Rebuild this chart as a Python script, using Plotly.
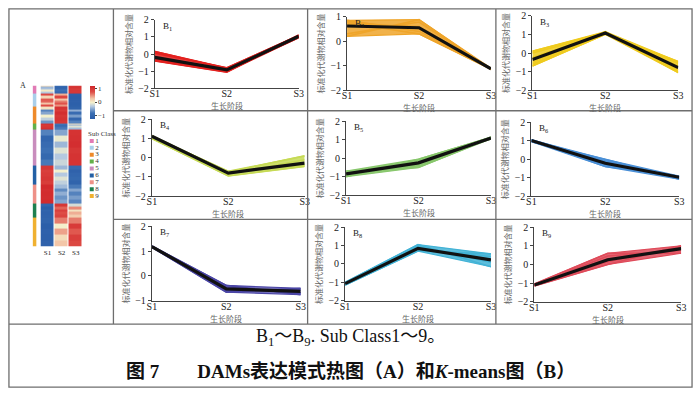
import plotly.graph_objects as go
import numpy as np

# ---------------- data ----------------
stages = ["S1", "S2", "S3"]
panel_names = ["B<sub>1</sub>", "B<sub>2</sub>", "B<sub>3</sub>", "B<sub>4</sub>", "B<sub>5</sub>",
               "B<sub>6</sub>", "B<sub>7</sub>", "B<sub>8</sub>", "B<sub>9</sub>"]
class_names = ["1", "2", "3", "4", "5", "6", "7", "8", "9"]
# relative number of metabolites per sub class (heights of annotation bar)
class_sizes = [13, 19, 26, 10, 55, 29, 30, 21, 45]

# member profiles (standardized relative content) per sub class
members_1 = [[0.15, -0.85, 1.00], [-0.40, -1.05, 1.10], [-0.30, -0.95, 0.95],
             [0.05, -0.80, 1.05], [-0.25, -1.00, 1.00], [-0.35, -0.90, 1.08]]
members_2 = [[0.85, 0.40, -1.10], [0.20, 0.88, -1.15], [0.75, 0.30, -1.12],
             [0.70, 0.60, -1.10], [0.30, 0.78, -1.13], [0.80, 0.50, -1.11]]
members_3 = [[0.10, 1.10, -1.05], [-0.70, 1.00, -0.45], [-0.50, 1.15, -0.90],
             [0.00, 1.05, -0.55], [-0.25, 1.10, -1.00], [-0.60, 1.05, -0.70]]
members_4 = [[1.15, -0.75, 0.10], [1.00, -0.95, -0.45], [1.05, -0.85, -0.10],
             [1.10, -0.70, -0.35], [1.15, -0.80, -0.40]]
members_5 = [[-0.70, -0.50, 1.10], [-1.00, -0.05, 1.12], [-0.90, -0.40, 1.15],
             [-0.80, -0.10, 1.05], [-0.95, -0.30, 1.10], [-0.75, -0.20, 1.08]]
members_6 = [[1.05, -0.40, -0.92], [0.95, 0.00, -1.08], [1.00, -0.30, -1.00],
             [1.05, -0.10, -0.95], [0.98, -0.25, -1.05]]
members_7 = [[1.20, -0.38, -0.75], [1.15, -0.65, -0.50], [1.18, -0.45, -0.70],
             [1.17, -0.60, -0.55], [1.19, -0.50, -0.68]]
members_8 = [[-1.00, 1.05, -0.15], [-1.15, 0.70, 0.55], [-1.05, 0.95, 0.10],
             [-1.10, 0.80, 0.40], [-1.08, 0.90, 0.25]]
members_9 = [[-1.05, 0.60, 0.60], [-1.15, 0.00, 1.00], [-1.10, 0.45, 0.75],
             [-1.12, 0.15, 0.95], [-1.08, 0.30, 0.85]]
all_members = [members_1, members_2, members_3, members_4, members_5,
               members_6, members_7, members_8, members_9]

# cluster centroids (black lines)
centroid_1 = [-0.20, -0.92, 1.03]
centroid_2 = [0.62, 0.55, -1.12]
centroid_3 = [-0.35, 1.07, -0.78]
centroid_4 = [1.12, -0.80, -0.28]
centroid_5 = [-0.85, -0.25, 1.10]
centroid_6 = [1.02, -0.22, -0.98]
centroid_7 = [1.18, -0.52, -0.62]
centroid_8 = [-1.07, 0.85, 0.22]
centroid_9 = [-1.10, 0.25, 0.85]
all_centroids = [centroid_1, centroid_2, centroid_3, centroid_4, centroid_5,
                 centroid_6, centroid_7, centroid_8, centroid_9]

y_tick_sets = [[-2, -1, 0, 1, 2], [-2, -1, 0, 1], [-2, -1, 0, 1, 2], [-2, -1, 0, 1, 2],
               [-2, -1, 0, 1, 2], [-2, -1, 0, 1, 2], [-1, 0, 1, 2], [-2, -1, 0, 1, 2],
               [-2, -1, 0, 1, 2]]
colorbar_ticks = [-1, 0, 1]
x_title = "生长阶段"
y_title = "标准化代谢物相对含量"

# ---------------- styles ----------------
W, H = 700, 397
def fx(x): return x / W
def fy(y): return 1 - y / H

serif = "Liberation Serif, Noto Sans CJK SC, serif"
cjk = "Noto Sans CJK SC, Liberation Serif"

line_colors = ["#E3211F", "#EFA52A", "#EFCB1E", "#C6DA55", "#88C76C",
               "#4A8FD6", "#4B46A6", "#43B3D6", "#DF4B5A"]
band_colors = ["rgba(227,33,31,0.85)", "rgba(239,165,42,0.85)", "rgba(239,203,30,0.85)",
               "rgba(198,218,85,0.85)", "rgba(136,199,108,0.85)", "rgba(74,143,214,0.85)",
               "rgba(95,90,180,0.85)", "rgba(67,179,214,0.85)", "rgba(223,75,90,0.85)"]
class_colors = ["#E17BB5", "#A9CFEA", "#EE8A2A", "#62B04A", "#C98DBD",
                "#2360A5", "#EE9188", "#1E8050", "#F0B130"]

# panel plot boxes (px): x0, x1, ytop, ybottom
boxes = [(152, 298, 14, 85), (347, 493, 11, 87), (535, 683, 10, 87),
         (149, 304, 117, 196), (346, 493, 119, 195), (534, 684, 120, 196),
         (149, 300, 227, 304), (345, 493, 228, 304), (537, 686, 228, 305)]

fig = go.Figure()
layout = dict(width=W, height=H, margin=dict(l=0, r=0, t=0, b=0),
              paper_bgcolor="white", plot_bgcolor="white", showlegend=False)
annotations = []

for i in range(9):
    n = "" if i == 0 else str(i + 1)
    xa, ya = "x" + n, "y" + n
    mem = np.array(all_members[i])
    upper = mem.max(axis=0)
    lower = mem.min(axis=0)
    fig.add_trace(go.Scatter(x=stages, y=upper, xaxis=xa, yaxis=ya, mode="lines",
                             line=dict(color=line_colors[i], width=1.2), hoverinfo="skip"))
    fig.add_trace(go.Scatter(x=stages, y=lower, xaxis=xa, yaxis=ya, mode="lines",
                             line=dict(color=line_colors[i], width=1.2), fill="tonexty",
                             fillcolor=band_colors[i], hoverinfo="skip"))
    for m in all_members[i]:
        fig.add_trace(go.Scatter(x=stages, y=m, xaxis=xa, yaxis=ya, mode="lines",
                                 line=dict(color=line_colors[i], width=1.6)))
    fig.add_trace(go.Scatter(x=stages, y=all_centroids[i], xaxis=xa, yaxis=ya, mode="lines",
                             line=dict(color="#111111", width=3.2)))
    x0, x1, yt, yb = boxes[i]
    ticks = y_tick_sets[i]
    layout["xaxis" + n] = dict(domain=[fx(x0), fx(x1)], anchor=ya, type="category",
                               range=[0, 2], showline=True, linecolor="#444", linewidth=1,
                               ticks="", ticklabelstandoff=-4,
                               tickfont=dict(family=serif, size=10, color="#222"),
                               showgrid=False, zeroline=False)
    layout["yaxis" + n] = dict(domain=[fy(yb), fy(yt)], anchor=xa,
                               range=[ticks[0], ticks[-1]], tickvals=ticks,
                               ticktext=[("−" + str(-t)) if t < 0 else str(t) for t in ticks],
                               showline=True, linecolor="#444", linewidth=1,
                               ticks="outside", ticklen=3, tickcolor="#444",
                               tickfont=dict(family=serif, size=10, color="#222"),
                               showgrid=False, zeroline=False,
                               title=dict(text=y_title, standoff=4,
                                          font=dict(family=cjk, size=8, color="#666")))
    annotations.append(dict(text=x_title, x=0.5, y=fy(yb + 18), xref=xa + " domain",
                            yref="paper", xanchor="center", yanchor="middle",
                            showarrow=False, font=dict(family=cjk, size=8, color="#666")))
    annotations.append(dict(text=panel_names[i], x=fx(x0 + 6), y=fy(yt - 1), xref="paper",
                            yref="paper", xanchor="left", yanchor="top", showarrow=False,
                            font=dict(family=serif, size=9, color="#222")))

# ---------------- heatmap (A) ----------------
z_rows, y_edges = [], [0.0]
bar_z, bar_edges = [], [0.0]
for k in range(9):
    mem = all_members[k]
    h = class_sizes[k] / len(mem)
    for m in mem:
        z_rows.append(m)
        y_edges.append(y_edges[-1] + h)
    bar_z.append([k + 1])
    bar_edges.append(bar_edges[-1] + class_sizes[k])
total = bar_edges[-1]

fig.add_trace(go.Heatmap(z=z_rows, x=stages, y=y_edges, xaxis="x10", yaxis="y10",
                         zmin=-1.25, zmax=1.25, xgap=1,
                         colorscale=[[0, "#285AA6"], [0.18, "#3C70B4"], [0.38, "#B5C9E0"],
                                     [0.5, "#F4F0CC"], [0.62, "#F3C6A8"], [0.82, "#DE4C45"],
                                     [1, "#D0262A"]],
                         colorbar=dict(x=fx(86), xanchor="left", y=fy(82), yanchor="top",
                                       thickness=5, thicknessmode="pixels",
                                       len=33, lenmode="pixels", outlinewidth=0,
                                       tickvals=colorbar_ticks, ticktext=["−1", "0", "1"],
                                       ticks="outside", ticklen=2, tickcolor="#444",
                                       tickfont=dict(family=serif, size=7, color="#333"),
                                       xpad=0, ypad=0)))
layout["xaxis10"] = dict(domain=[fx(36), fx(79)], anchor="y10", showline=False,
                         ticks="", tickfont=dict(family=serif, size=7, color="#222"),
                         showgrid=False, zeroline=False)
layout["yaxis10"] = dict(domain=[fy(248), fy(82)], anchor="x10", range=[total, 0],
                         visible=False)

n_cls = len(class_colors)
disc = []
for k, c in enumerate(class_colors):
    disc.append([k / n_cls, c])
    disc.append([(k + 1) / n_cls, c])
fig.add_trace(go.Heatmap(z=bar_z, x=[0], y=bar_edges, xaxis="x11", yaxis="y11",
                         zmin=0.5, zmax=9.5, colorscale=disc, showscale=False))
layout["xaxis11"] = dict(domain=[fx(28), fx(32)], anchor="y11", visible=False)
layout["yaxis11"] = dict(domain=[fy(248), fy(82)], anchor="x11", range=[total, 0],
                         visible=False)

# sub class legend
fig.add_trace(go.Scatter(x=[6] * 9, y=list(range(1, 10)), xaxis="x12", yaxis="y12",
                         mode="markers+text", text=class_names, textposition="middle right",
                         textfont=dict(family=serif, size=7, color="#333"),
                         marker=dict(symbol="square", size=4, color=class_colors)))
layout["xaxis12"] = dict(domain=[fx(82), fx(110)], anchor="y12", range=[0, 28], visible=False)
layout["yaxis12"] = dict(domain=[fy(199.5), fy(128.5)], anchor="x12", range=[9.5, -0.5],
                         visible=False)
annotations.append(dict(text="Sub Class", x=0, y=0, xref="x12", yref="y12", xanchor="left",
                        yanchor="middle", showarrow=False,
                        font=dict(family=serif, size=7, color="#333")))
annotations.append(dict(text="A", x=fx(18), y=fy(82), xref="paper", yref="paper",
                        xanchor="center", yanchor="middle", showarrow=False,
                        font=dict(family=serif, size=8, color="#333")))

# caption
annotations.append(dict(text="B<sub>1</sub>～B<sub>9</sub>. Sub Class1～9。", x=fx(350), y=fy(342),
                        xref="paper", yref="paper", xanchor="center", yanchor="middle",
                        showarrow=False, font=dict(family=serif, size=18, color="#111")))
annotations.append(dict(text="<b>图 7\u2003\u2003DAMs表达模式热图（A）和<i>K</i>-means图（B）</b>",
                        x=fx(350), y=fy(377), xref="paper", yref="paper", xanchor="center",
                        yanchor="middle", showarrow=False,
                        font=dict(family=serif, size=19, color="#111")))

# frame lines
lc = "#6E6E6E"
shapes = [
    dict(type="rect", x0=fx(4), x1=fx(697), y0=fy(393), y1=fy(3)),
    dict(type="line", x0=fx(4), x1=fx(697), y0=fy(328), y1=fy(328)),
    dict(type="line", x0=fx(110), x1=fx(110), y0=fy(328), y1=fy(3)),
    dict(type="line", x0=fx(307), x1=fx(307), y0=fy(328), y1=fy(3)),
    dict(type="line", x0=fx(498), x1=fx(498), y0=fy(328), y1=fy(3)),
    dict(type="line", x0=fx(110), x1=fx(697), y0=fy(108), y1=fy(108)),
    dict(type="line", x0=fx(110), x1=fx(697), y0=fy(220), y1=fy(220)),
]
for s in shapes:
    s.update(xref="paper", yref="paper", line=dict(color=lc, width=1.3))

layout["annotations"] = annotations
layout["shapes"] = shapes
fig.update_layout(**layout)
fig.write_html("out.html", config={"displayModeBar": False},
               post_script="document.body.style.margin='0px';document.body.style.overflow='hidden';")
